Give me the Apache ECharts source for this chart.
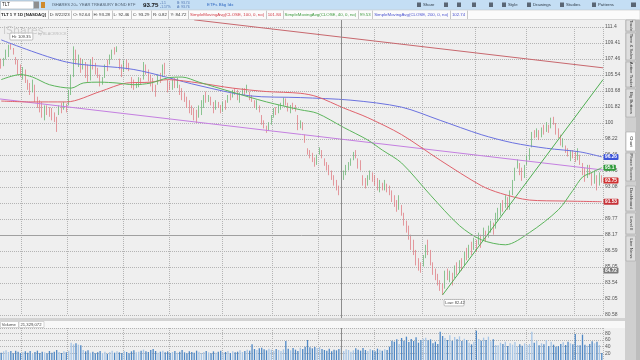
<!DOCTYPE html>
<html><head><meta charset="utf-8">
<script src="https://cdn.jsdelivr.net/npm/echarts@6/dist/echarts.min.js"></script>
<style>html,body{margin:0;padding:0;background:#efefef;}#c{width:640px;height:360px;}</style>
</head><body><div id="c"></div>
<script>
// ---------------- DATA ----------------
const open = [
107.2,106.7,107.5,108.2,109.0,108.7,107.6,107.2,106.0,105.4,
105.9,104.8,104.2,103.6,104.2,102.8,102.1,101.6,100.8,101.7,
101.3,101.1,100.7,100.5,101.0,101.8,101.6,102.1,102.2,103.5,
105.5,108.3,107.0,107.5,106.3,107.0,106.6,105.0,107.2,106.7,
106.0,105.4,104.5,105.3,106.7,106.9,107.8,108.6,108.4,107.4,
106.6,105.9,107.2,106.6,105.2,104.6,104.1,104.3,104.9,105.0,
106.5,106.1,105.1,104.8,104.2,104.5,105.3,105.4,106.6,105.0,
104.5,104.0,104.8,104.2,104.3,103.6,103.0,102.8,102.2,101.5,
101.3,100.8,100.7,101.4,102.2,103.1,102.6,102.9,102.2,101.6,
102.3,101.9,101.4,102.1,102.4,103.1,103.0,103.7,103.5,102.8,
103.3,103.9,103.5,103.5,103.0,102.5,101.8,102.0,100.8,100.1,
99.6,99.2,99.9,100.8,101.5,101.2,101.7,102.0,102.6,102.1,
101.4,102.0,101.8,100.8,99.5,100.0,98.6,97.1,96.9,96.4,
96.1,95.5,96.6,96.9,96.0,95.6,95.2,94.7,94.1,93.6,
93.0,92.64,93.9,94.5,94.9,95.4,96.0,96.7,96.0,95.3,
94.2,93.6,93.3,93.9,94.4,93.9,93.6,92.8,93.3,92.9,
93.3,92.9,92.5,91.9,91.4,90.9,91.1,90.3,89.5,88.9,
88.1,87.2,86.6,85.6,85.0,85.1,86.0,87.1,86.6,85.4,
84.8,84.2,83.6,83.3,83.1,84.6,83.9,84.4,84.1,85.1,
84.6,85.5,85.3,86.3,86.0,87.0,86.8,87.4,87.3,88.0,
87.8,88.5,88.0,88.6,89.2,89.0,89.8,90.3,91.2,91.0,
91.8,90.9,92.6,93.8,95.1,95.5,94.8,94.2,95.5,96.1,
97.4,98.9,98.5,99.1,98.5,99.4,99.1,99.7,99.5,100.4,
99.9,99.2,98.5,97.6,97.4,97.0,96.2,96.8,96.4,96.0,
96.5,95.5,94.8,94.1,94.9,94.4,93.5,94.2,93.3,94.1];
const high = [
107.5,107.6,108.6,109.2,109.35,108.8,107.7,107.4,106.8,106.5,
106.2,105.0,104.6,105.0,104.4,103.0,102.6,102.4,102.0,102.0,
101.8,101.7,101.2,100.7,102.0,102.3,102.4,102.2,103.8,105.6,
109.0,108.6,108.0,107.6,107.4,107.1,106.8,107.4,107.7,107.0,
106.4,105.6,105.3,106.8,107.4,108.0,108.6,108.9,109.0,107.5,
106.8,107.3,107.4,107.0,105.3,105.0,104.7,105.3,105.2,107.1,
106.8,106.2,105.6,105.2,104.4,105.6,105.8,106.8,107.0,105.0,
104.7,105.0,105.2,105.2,104.4,104.0,103.5,103.0,102.6,102.0,
101.7,101.5,102.0,102.6,103.2,103.6,103.2,103.0,102.4,102.6,
102.4,102.05,102.4,102.6,103.2,103.4,103.8,104.0,103.8,103.5,
104.0,104.0,104.4,103.6,103.2,102.6,102.6,102.0,100.9,100.3,
99.7,100.1,100.9,101.7,101.8,102.05,102.3,102.9,102.8,102.3,
102.05,102.3,102.05,100.9,100.3,100.1,98.7,97.2,97.0,96.7,
96.2,96.5,97.3,97.0,96.1,95.7,95.4,94.8,94.3,93.8,
93.2,93.29,94.8,95.4,95.7,96.1,96.8,97.0,96.1,95.9,
94.3,94.0,94.3,94.8,94.6,94.3,94.0,93.8,93.5,93.8,
93.4,93.2,92.7,92.2,91.7,92.2,91.2,90.4,89.6,89.1,
88.2,87.7,86.7,85.9,85.5,86.2,87.2,87.7,86.7,85.5,
84.9,84.4,83.8,83.5,84.7,84.9,84.7,84.5,85.2,85.5,
85.7,85.9,86.5,86.9,87.2,87.5,87.9,87.7,88.4,88.2,
88.9,88.6,89.1,89.6,89.4,90.4,90.9,91.4,91.7,92.2,
92.0,92.7,93.8,95.1,96.0,95.6,95.1,95.4,96.5,97.2,
99.0,99.2,99.4,99.2,99.5,99.8,100.1,99.8,100.6,100.7,
100.0,99.4,98.7,98.3,97.5,97.2,97.0,97.0,96.8,97.2,
96.5,95.6,95.1,95.4,95.4,94.6,94.8,94.3,94.6,94.3];
const low = [
106.3,106.6,107.4,107.7,108.6,108.0,106.8,105.6,105.3,105.0,
104.6,103.8,103.2,103.5,102.4,101.7,101.2,100.6,100.3,100.9,
100.7,100.3,100.1,99.0,100.9,101.1,101.5,101.2,102.0,103.2,
105.3,106.8,106.5,105.8,106.2,105.2,104.6,104.9,106.2,105.6,
105.2,104.2,104.4,105.2,106.0,106.8,107.4,108.0,108.3,106.2,
105.3,105.9,106.2,106.0,104.0,103.8,104.0,104.1,104.4,105.0,
105.6,104.8,104.2,103.6,103.0,104.4,104.6,105.3,105.6,103.5,
103.8,103.8,104.0,104.0,103.2,102.6,102.4,101.7,101.1,100.9,
100.3,100.0,100.6,100.9,101.7,102.3,102.4,102.0,101.1,101.5,
101.7,101.1,101.3,101.5,102.3,102.6,102.9,103.2,102.6,102.3,
103.2,103.1,103.4,102.6,102.4,101.7,101.5,101.2,99.8,99.4,
98.9,99.1,99.8,100.6,100.9,101.1,101.5,101.9,102.0,101.3,
101.1,101.5,101.3,99.2,99.4,99.2,97.8,96.5,96.1,95.7,
95.2,95.4,96.5,96.1,95.3,94.8,94.3,93.8,93.2,92.7,
92.2,92.46,93.8,94.3,94.8,95.3,95.9,96.1,95.0,94.8,
93.2,92.9,93.2,93.8,93.6,93.2,92.7,92.5,92.7,92.7,
92.5,92.2,91.5,91.0,90.5,90.7,90.1,89.1,88.4,87.7,
86.7,86.2,85.2,84.7,84.5,85.1,85.9,86.2,85.2,84.3,
83.8,83.3,82.8,82.42,83.0,83.8,83.6,83.3,84.0,84.3,
84.5,84.7,85.2,85.7,85.9,86.2,86.7,86.5,87.2,86.9,
87.7,87.5,87.9,88.4,88.2,88.8,89.6,90.1,90.5,90.9,
90.7,90.7,92.2,93.7,95.0,94.3,93.7,94.0,95.4,95.9,
97.3,98.3,98.4,98.1,98.4,98.7,99.0,98.9,99.4,99.8,
98.7,98.3,97.5,97.3,96.7,96.3,95.8,96.1,95.7,95.9,
95.4,94.3,93.6,94.0,94.3,93.2,93.4,92.7,93.2,93.5];
const close = [
106.6,107.3,108.3,109.0,108.8,108.2,107.0,106.0,105.5,105.8,
104.9,104.0,103.4,104.5,102.6,102.0,101.5,101.0,101.6,101.2,
101.0,100.6,100.4,99.3,101.6,101.4,102.0,101.5,103.6,105.3,
108.3,107.2,107.6,106.2,106.9,105.6,104.9,107.0,106.6,105.9,
105.5,104.4,105.0,106.5,106.3,107.8,108.4,108.1,108.7,106.5,
105.5,106.9,106.4,106.2,104.5,104.2,104.5,104.8,104.6,106.6,
106.0,105.0,104.5,103.8,103.2,105.2,104.9,106.5,106.0,103.8,
104.0,104.6,104.3,104.8,103.5,102.9,102.7,102.0,101.4,101.2,
100.6,100.2,101.6,102.4,103.0,102.8,103.1,102.3,101.4,102.2,
101.8,101.3,102.0,101.7,103.0,102.9,103.6,103.4,102.9,103.3,
103.8,103.4,104.1,102.9,102.6,101.9,102.3,101.4,100.0,99.6,
99.1,99.9,100.7,101.4,101.0,101.8,101.9,102.7,102.2,101.5,
101.8,101.7,101.4,99.4,100.1,99.5,98.0,96.8,96.3,96.0,
95.4,96.2,97.1,96.4,95.5,95.0,94.6,94.0,93.5,92.9,
92.4,93.29,94.6,94.8,95.4,95.9,96.6,96.3,95.2,95.0,
93.5,93.2,94.0,94.2,93.8,93.5,92.9,93.4,93.0,93.2,
92.8,92.4,91.8,91.3,90.8,91.6,90.4,89.4,88.7,88.0,
87.0,86.4,85.5,85.0,84.8,85.9,87.0,86.5,85.4,84.6,
84.1,83.5,83.0,82.9,84.4,84.0,84.3,83.6,84.9,84.6,
85.4,85.2,86.2,86.0,86.9,86.5,87.6,86.8,88.1,87.3,
88.6,87.9,88.8,89.3,88.6,90.1,90.5,91.1,90.8,91.9,
91.1,92.4,93.5,94.9,95.7,94.6,94.0,95.1,96.2,96.9,
98.8,98.6,99.2,98.4,99.3,99.0,99.9,99.3,100.3,100.0,
99.0,98.6,97.8,98.0,96.9,96.5,96.7,96.3,96.0,96.8,
95.6,94.6,93.9,95.0,94.5,93.6,94.4,93.2,94.2,93.75];
const volume = [ // millions
22,26,29,24,27,20,28,25,21,23, 26,22,27,19,24,28,21,25,23,20,
27,22,25,30,24,21,26,23,28,52, 47,50,46,44,30,26,29,22,25,20,
23,27,21,25,19,24,28,22,26,23, 21,27,24,20,26,29,23,25,28,31,
26,24,30,33,27,22,25,28,23,26, 21,24,27,22,25,30,23,20,26,24,
22,28,25,21,24,27,23,20,26,22, 25,28,22,24,27,21,26,23,25,29,
24,27,31,28,47,33,30,35,37,32, 29,34,31,28,33,30,27,32,57,34,
29,36,31,27,37,33,40,60,38,35, 39,36,39,33,30,28,34,26,31,29,
33,37,27,32,30,25,29,35,31,28, 36,30,27,33,29,26,34,31,28,32,
30,40,58,55,62,48,66,58,70,54, 63,57,68,52,60,64,67,59,62,50,
55,48,85,72,66,60,74,58,69,62, 71,57,64,60,52,47,55,88,63,58,
67,60,70,56,62,45,44,52,48,55, 42,50,46,54,41,47,43,50,45,48,
85,52,58,44,50,47,60,42,55,46, 40,42,48,53,45,55,50,47,78,45,
44,76,46,43,48,56,50,55,45,21.3];
// moving averages and drawings: [bar index, price]
const sma40 = [[0,105.0],[8,105.6],[13,105.3],[20,104.4],[29,104.0],[34,104.6],[41,104.7],[48,104.6],[55,104.4],[62,104.6],[69,105.2],[75,105.3],[82,104.7],[95,103.6],[110,102.4],[124,101.5],[131,101.1],[142,99.5],[152,98.1],[158,97.0],[166,95.6],[178,92.2],[190,89.1],[199,87.7],[209,87.2],[219,88.4],[231,90.7],[237,92.7],[241,94.1],[245,94.6],[249,95.1]];
const sma100 = [[0,102.5],[12,102.4],[27,102.4],[41,103.6],[52,104.6],[62,104.7],[69,105.0],[82,104.6],[96,104.0],[110,103.6],[124,103.4],[131,103.0],[142,101.7],[152,100.6],[166,98.7],[182,95.9],[199,93.2],[207,92.4],[219,91.7],[233,91.6],[249,91.53]];
const sma200 = [[0,109.8],[27,107.1],[55,106.2],[82,104.3],[103,103.1],[124,102.9],[145,102.6],[166,101.8],[182,100.3],[199,98.7],[212,97.8],[226,97.2],[240,96.8],[249,96.26]];
const trendViolet = [[-0.5,102.74],[249.5,94.85]];
const trendRed = [[80,112.3],[249.5,106.4]];
const trendGreen = [[183,82.42],[249.5,105.0]];
const levelLine = 88.17;
const cursorIdx = 141;
const cursorPrice = 84.72;
const lastPrice = 93.75;
const hiIdx = 4, hiPrice = 109.35;
const loIdx = 183, loPrice = 82.42;
const tickLabels = ['111.4','109.41','107.46','105.54','103.68','101.82','100','98.22','96.46','94.75','93.08','91.4','89.77','88.17','86.59','85.05','83.54','82.05','80.58'];
const monthStarts = [9,28,51,70,92,113,132,155,175,197,218,238];
const header = {sym:'TLT', name:'ISHARES 20+ YEAR TREASURY BOND ETF', last:'93.75', chg:'-1.1', pct:'-1.17%', bid:'B: 93.74', ask:'A: 93.76',
  date:'8/22/23', o:'92.64', h:'93.28', l:'92.46', c:'93.29', r:'0.82', y:'84.72', s100:'101.84', s40:'99.53', s200:'102.74', vol:'21,329,072'};

// ---------------- CHART ----------------
const R = 1.018156;
const toU = p => Math.log(p / 100) / Math.log(R);
const cats = close.map((_, i) => String(i));
const monthSet = new Set(monthStarts);
const FONT = 'Liberation Sans, Arial, sans-serif';
const UP = '#5fb068', DN = '#de737a';
const C200 = '#6b72e0', C100 = '#e0626c', C40 = '#5cb55c', CVIO = '#c47fe0', CTR = '#c8686e', CTG = '#4fae52';

const chart = echarts.init(document.getElementById('c'), null, {renderer: 'canvas'});
const dotted = {lineStyle: {type: 'dotted', color: '#b4b4b4', width: 1}};
const lineS = (data, color, extra) => Object.assign({
  type: 'line', xAxisIndex: 1, yAxisIndex: 0, data: data.map(d => [d[0], toU(d[1])]),
  symbol: 'none', smooth: 0.3, lineStyle: {color, width: 1}, silent: true, animation: false
}, extra || {});

chart.setOption({
  animation: false,
  backgroundColor: '#efefef',
  grid: [
    {left: 0, right: 37, top: 27, height: 288},
    {left: 0, right: 37, top: 328, height: 35.3}
  ],
  xAxis: [
    {type: 'category', gridIndex: 0, data: cats, boundaryGap: true, axisLine: {show: false}, axisTick: {show: false}, axisLabel: {show: false},
      splitLine: Object.assign({show: true, interval: (i) => monthSet.has(i)}, dotted)},
    {type: 'value', gridIndex: 0, min: -0.5, max: 249.5, show: false},
    {type: 'category', gridIndex: 1, data: cats, boundaryGap: true, axisLine: {show: false}, axisTick: {show: false}, axisLabel: {show: false},
      splitLine: Object.assign({show: true, interval: (i) => monthSet.has(i)}, dotted)}
  ],
  yAxis: [
    {type: 'value', gridIndex: 0, position: 'right', min: -12, max: 6, interval: 1,
      axisLine: {show: false}, axisTick: {show: false},
      axisLabel: {fontSize: 5, color: '#555', margin: 2, fontFamily: FONT, formatter: v => tickLabels[6 - Math.round(v)]},
      splitLine: dotted},
    {type: 'value', gridIndex: 1, position: 'right', min: 0, max: 96, interval: 20,
      axisLine: {show: false}, axisTick: {show: false},
      axisLabel: {fontSize: 5, color: '#555', margin: 2, fontFamily: FONT, showMaxLabel: false, showMinLabel: false},
      splitLine: dotted}
  ],
  series: [
    lineS(trendViolet, CVIO, {smooth: false}),
    lineS(trendRed, CTR, {smooth: false, clip: false}),
    lineS(sma200, C200),
    lineS(sma100, C100),
    lineS(sma40, C40),
    lineS(trendGreen, CTG, {smooth: false, clip: false}),
    {type: 'candlestick', xAxisIndex: 0, yAxisIndex: 0, barWidth: 1.0,
      data: close.map((c, i) => [toU(open[i]), toU(c), toU(low[i]), toU(high[i])]),
      itemStyle: {color: UP, color0: DN, borderColor: UP, borderColor0: DN, borderWidth: 0.7},
      markLine: {silent: true, symbol: 'none', label: {show: false}, lineStyle: {type: 'solid', color: '#a0a0a0', width: 1},
        data: [{yAxis: toU(levelLine)}]}},
    {type: 'bar', xAxisIndex: 2, yAxisIndex: 1, barWidth: 1.3,
      data: volume.map((v, i) => ({value: v, itemStyle: {color: close[i] >= open[i] ? '#a6c5e6' : '#4f88c5'}}))}
  ]
});

// ---------------- DECORATION ----------------
const G = [];
const T = (text, x, y, size, fill, o) => G.push(Object.assign({type: 'text', z: 100, silent: true,
  style: Object.assign({text, x, y, fontSize: size, fill, fontFamily: FONT, verticalAlign: 'middle'}, o || {})}));
const Rc = (x, y, w, h, fill, stroke, o) => G.push(Object.assign({type: 'rect', z: 90, silent: true,
  shape: {x, y, width: w, height: h, r: (o && o.r) || 0}, style: {fill, stroke: stroke || null, lineWidth: stroke ? 0.6 : 0}}));
const L = (x1, y1, x2, y2, stroke, z) => G.push({type: 'line', z: z || 95, silent: true, shape: {x1, y1, x2, y2}, style: {stroke, lineWidth: 1}});
const mctx = document.createElement('canvas').getContext('2d');
const tw = (t, size, bold) => { mctx.font = (bold ? 'bold ' : '') + size + 'px ' + FONT; return mctx.measureText(t).width; };

// row 1 toolbar
Rc(0, 0, 640, 10, '#c4def4');
Rc(0.5, 1, 33, 8, '#ffffff', '#9aa4ae');
T(header.sym, 2, 5, 4.6, '#222');
Rc(34, 1.5, 5, 7, '#8f8f8f');
Rc(41, 2, 4, 6, '#cf8a2c');
T(header.name, 52, 5, 4.1, '#4f5f70');
T(header.last, 143, 5, 6.2, '#111', {fontWeight: 'bold'});
T(header.chg, 160, 3.2, 3.4, '#4d73b0');
T(header.pct, 160, 7.2, 3.4, '#4d73b0');
T(header.bid, 177, 3.2, 3.4, '#4d73b0');
T(header.ask, 177, 7.2, 3.4, '#4d73b0');
T('ETFs Bkg Idx', 207, 5, 4.4, '#2f67c0');
[[417, 'Share'], [502, 'Style'], [527, 'Drawings'], [560, 'Studies'], [592, 'Patterns']].forEach(([x, t]) => {
  Rc(x, 2.5, 4, 4.5, '#5a6674'); T(t, x + 6, 5, 4.3, '#2f3b48');
});
[444, 457, 472, 489].forEach(x => Rc(x, 2.5, 4, 4.5, '#5a6674'));
Rc(631, 2.5, 5, 4.5, '#5a6674');

// row 2 header (cells laid out one after another)
Rc(0, 10, 640, 9.5, '#fbfbfb', '#c6c6c6');
const FS2 = 4.35;
const cells = [
  ['TLT 1 Y 1D [NASDAQ]', '#222', true], ['D: ' + header.date, '#333'], ['O: ' + header.o, '#333'], ['H: ' + header.h, '#333'],
  ['L: ' + header.l, '#333'], ['C: ' + header.c, '#333'], ['R: ' + header.r, '#333'], ['Y: ' + header.y, '#333'],
  ['SimpleMovingAvg(CLOSE, 100, 0, no)', '#d23a44'], [header.s100, '#d23a44'],
  ['SimpleMovingAvg(CLOSE, 40, 0, no)', '#3d9a3d'], [header.s40, '#3d9a3d'],
  ['SimpleMovingAvg(CLOSE, 200, 0, no)', '#4a52d0'], [header.s200, '#4a52d0']];
let cxp = 1;
cells.forEach(([t, col, b]) => {
  T(t, cxp, 15, FS2, col, b ? {fontWeight: 'bold'} : {});
  cxp += tw(t, FS2, b) + 1.6;
  L(Math.round(cxp) + 0.5, 10.5, Math.round(cxp) + 0.5, 19, '#c9c9c9');
  cxp += 2;
});

// logo watermark
T('iShares', 3, 31.5, 11, '#cdcdcd', {fontFamily: 'DejaVu Sans'});
T('by BLACKROCK', 38, 34, 3.8, '#b9b9b9');

// separator & volume header strip
Rc(0, 318, 625, 3, '#d3d3d3');
Rc(0, 321, 625, 7, '#f8f8f8');
Rc(0.5, 321.5, 18, 6, '#ffffff', '#bcbcbc');
T('Volume', 1.8, 324.6, 4.2, '#444');
Rc(19, 321.5, 25, 6, '#ffffff', '#bcbcbc');
T(header.vol, 20.5, 324.6, 4.2, '#444');

// right tab strip
Rc(625, 20, 15, 340, '#cfcfcf');
Rc(636, 20, 4, 340, '#bdbdbd');
[['Trade', 20, 31], ['Time & Sales', 33, 60], ['Active Trader', 62, 87], ['Big Buttons', 89, 117],
 ['Chart', 132, 151], ['Phase Scores', 153, 181], ['Dashboard', 186, 211], ['Level II', 213, 234], ['Live News', 236, 261]
].forEach(([t, y1, y2]) => {
  Rc(626, y1, 9.5, y2 - y1, t === 'Chart' ? '#ffffff' : '#dedede', '#a9a9a9');
  G.push({type: 'text', z: 100, silent: true, x: 631, y: (y1 + y2) / 2, rotation: -Math.PI / 2,
    style: {text: t, fontSize: 4.3, fill: '#333', fontFamily: FONT, align: 'center', verticalAlign: 'middle'}});
});

// dynamic, data-positioned overlays
const pt = (i, p) => chart.convertToPixel({xAxisIndex: 1, yAxisIndex: 0}, [i, toU(p)]);
const fmt = v => String(parseFloat(v.toFixed(2)));
const box = (p, fill, txt) => {
  const y = pt(249.5, p)[1];
  const t = txt || fmt(p);
  Rc(603.5, y - 3, tw(t, 4.8, true) + 3, 6, fill, null, {r: 1});
  T(t, 605, y + 0.2, 4.8, '#ffffff', {fontWeight: 'bold'});
};
box(sma200[sma200.length - 1][1], '#3d55d8');
box(sma40[sma40.length - 1][1], '#2f9a3a');
box(lastPrice, '#cf3030', lastPrice.toFixed(2));
box(sma100[sma100.length - 1][1], '#c63238');
box(cursorPrice, '#7a7a7a', cursorPrice.toFixed(2));

const cx = pt(cursorIdx, 100)[0];
L(Math.round(cx) + 0.5, 20, Math.round(cx) + 0.5, 360, '#8c8c8c', 60);

const hp = pt(hiIdx, hiPrice);
Rc(hp[0] - 1, hp[1] - 10.5, 23, 7, '#ffffff', '#9a9a9a', {r: 1});
T('Hi: ' + hiPrice.toFixed(2), hp[0] + 0.8, hp[1] - 6.9, 4.2, '#444');
const lp = pt(loIdx, loPrice);
Rc(lp[0] + 1.5, lp[1] + 4.5, 20, 6.5, '#ffffff', '#9a9a9a', {r: 1});
T('Low: ' + loPrice.toFixed(2), lp[0] + 2.6, lp[1] + 7.9, 4.0, '#444');

chart.setOption({graphic: {elements: G}});
</script></body></html>
